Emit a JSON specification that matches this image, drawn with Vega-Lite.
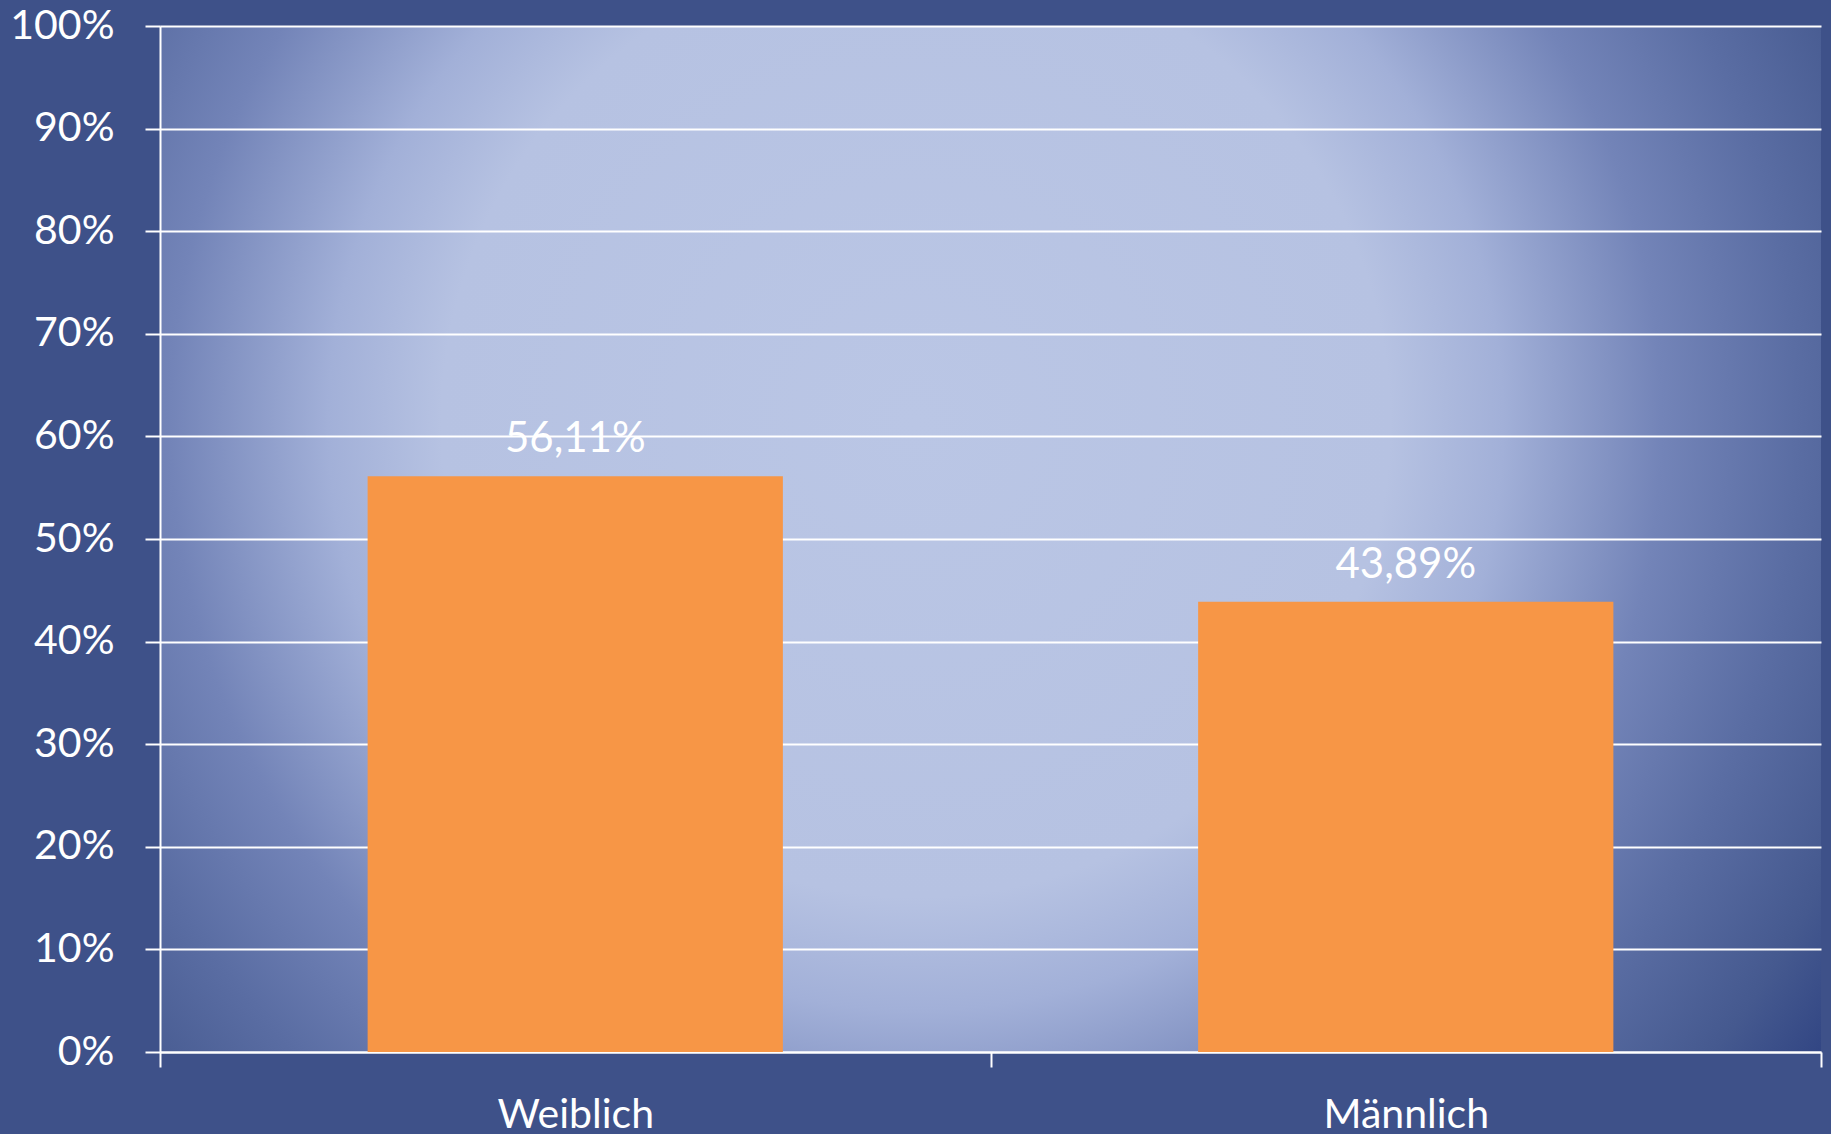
{
  "$schema": "https://vega.github.io/schema/vega-lite/v6.json",
  "width": 1661,
  "height": 1026,
  "autosize": {"type": "none"},
  "padding": {"left": 160, "top": 26, "right": 10, "bottom": 82},
  "background": "#3e5189",
  "config": {
    "view": {
      "stroke": null,
      "fill": {
        "gradient": "radial",
        "x1": 0.455, "y1": 0.43, "r1": 0,
        "x2": 0.455, "y2": 0.43, "r2": 0.68,
        "stops": [
          {"offset": 0, "color": "#bac6e5"},
          {"offset": 0.42, "color": "#b6c2e2"},
          {"offset": 0.52, "color": "#a2b0d8"},
          {"offset": 0.66, "color": "#7384b8"},
          {"offset": 0.78, "color": "#5a6da3"},
          {"offset": 0.9, "color": "#45598f"},
          {"offset": 1, "color": "#2c4080"}
        ]
      }
    },
    "locale": {"number": {"decimal": ",", "thousands": ".", "grouping": [3], "currency": ["", " €"]}},
    "font": "Lato"
  },
  "data": {
    "values": [
      {"geschlecht": "Weiblich", "anteil": 0.5611},
      {"geschlecht": "Männlich", "anteil": 0.4389}
    ]
  },
  "encoding": {
    "x": {
      "field": "geschlecht",
      "type": "nominal",
      "sort": null,
      "title": null,
      "scale": {"paddingInner": 0, "paddingOuter": 0},
      "axis": {
        "labelAngle": 0,
        "labelColor": "white",
        "labelFontSize": 41,
        "labelPadding": 28,
        "labelBaseline": "top",
        "tickColor": "white",
        "tickSize": 15,
        "tickWidth": 2,
        "tickBand": "extent",
        "domainColor": "white",
        "domainWidth": 2,
        "grid": false
      }
    },
    "y": {
      "field": "anteil",
      "type": "quantitative",
      "title": null,
      "scale": {"domain": [0, 1]},
      "axis": {
        "format": ".0%",
        "values": [0, 0.1, 0.2, 0.3, 0.4, 0.5, 0.6, 0.7, 0.8, 0.9, 1],
        "labelColor": "white",
        "labelFontSize": 41,
        "labelPadding": 31,
        "tickColor": "white",
        "tickSize": 15,
        "tickWidth": 2,
        "grid": true,
        "gridColor": "white",
        "gridWidth": 2,
        "gridOpacity": 1,
        "domainColor": "white",
        "domainWidth": 2
      }
    }
  },
  "layer": [
    {"mark": {"type": "bar", "color": "#f79646", "width": {"band": 0.5}}},
    {
      "mark": {"type": "text", "color": "white", "fontSize": 42, "dy": -24, "baseline": "alphabetic"},
      "encoding": {"text": {"field": "anteil", "type": "quantitative", "format": ".2%"}}
    }
  ]
}
